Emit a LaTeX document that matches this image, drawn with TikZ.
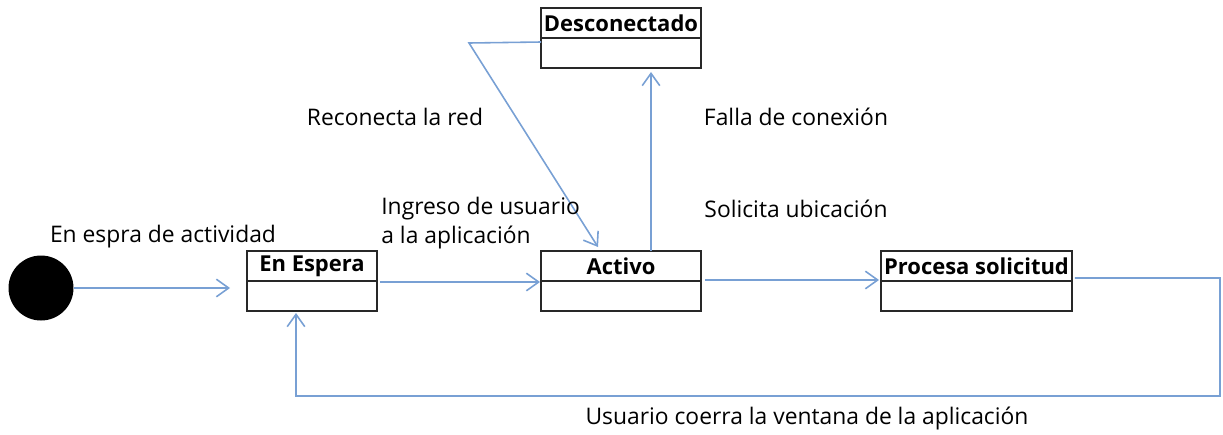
\documentclass[tikz,border=0pt]{standalone}
\usepackage{fontspec}
\setmainfont{Open Sans}
\usetikzlibrary{positioning,calc,arrows.meta}
\definecolor{linkblue}{RGB}{120,160,212}
\definecolor{boxline}{RGB}{40,40,40}
\tikzset{
  statetitle/.style={draw=boxline, line width=1pt, font=\fontsize{12.5}{15}\selectfont\bfseries,
    minimum height=0.6cm, inner sep=0pt, outer sep=0pt},
  statebody/.style={draw=boxline, line width=1pt, minimum height=0.6cm, inner sep=0pt, outer sep=0pt},
  trans/.style={draw=linkblue, line width=0.9pt},
  transarrow/.style={trans, -{Straight Barb[length=7pt,width=10pt]}},
  translabel/.style={font=\fontsize{13}{16}\selectfont, inner sep=0pt}
}

\begin{document}
\begin{tikzpicture}[x=0.02cm, y=-0.02cm]
   \useasboundingbox (0,0) rectangle (1223,434);
   % initial state
   \node[circle, fill=black, minimum size=1.3cm, inner sep=0pt] (ini) at (41,288) {};
   % states
   \node[statetitle, minimum width=2.6cm] (esp) at (312,266) {En Espera};
   \node[statebody, minimum width=2.6cm, below=0pt of esp] (espb) {};
   \node[statetitle, minimum width=3.2cm] (act) at (621,266) {Activo};
   \node[statebody, minimum width=3.2cm, below=0pt of act] (actb) {};
   \node[statetitle, minimum width=3.2cm] (desc) at (621,23) {Desconectado};
   \node[statebody, minimum width=3.2cm, below=0pt of desc] (descb) {};
   \node[statetitle, minimum width=3.82cm] (proc) at (976.5,266) {Procesa solicitud};
   \node[statebody, minimum width=3.82cm, below=0pt of proc] (procb) {};
   % bends
   \coordinate (rbend) at (469,43);
   \coordinate (lpa) at (1220,278);
   \coordinate (lpb) at (1220,396);
   \coordinate (lpc) at (296,396);
   % transitions
   \draw[transarrow] (ini.east) -- ($(ini.east -| espb.west)+(-17,0)$);
   \draw[transarrow] ($(esp.south east)+(3,1)$) -- ($(act.south west)+(-1,1)$);
   \draw[transarrow] ($(act.south east)+(4,-1)$) -- ($(proc.south west)+(-2,-1)$);
   \draw[transarrow] ($(act.north)+(30,0)$) -- ($(descb.south)+(30,4)$);
   \draw[transarrow] ($(descb.north west)+(0,4)$) -- (rbend) -- ($(act.north)+(-23,-4)$);
   \draw[transarrow] ($(proc.south east)+(3,-3)$) -- (lpa) -- (lpb) -- (lpc)
      -- ($(espb.south)+(-16,2)$);
   % labels
   \node[translabel] (lini) at (163,237) {En espra de actividad};
   \node[translabel, anchor=west, align=left] (ling) at (381,223) {Ingreso de usuario\\a la aplicación};
   \node[translabel] (lrec) at (395,117) {Reconecta la red};
   \node[translabel] (lfal) at (796,117) {Falla de conexión};
   \node[translabel] (lsol) at (796,209) {Solicita ubicación};
   \node[translabel] (lusr) at (807,418) {Usuario coerra la ventana de la aplicación};
\end{tikzpicture}
\end{document}
